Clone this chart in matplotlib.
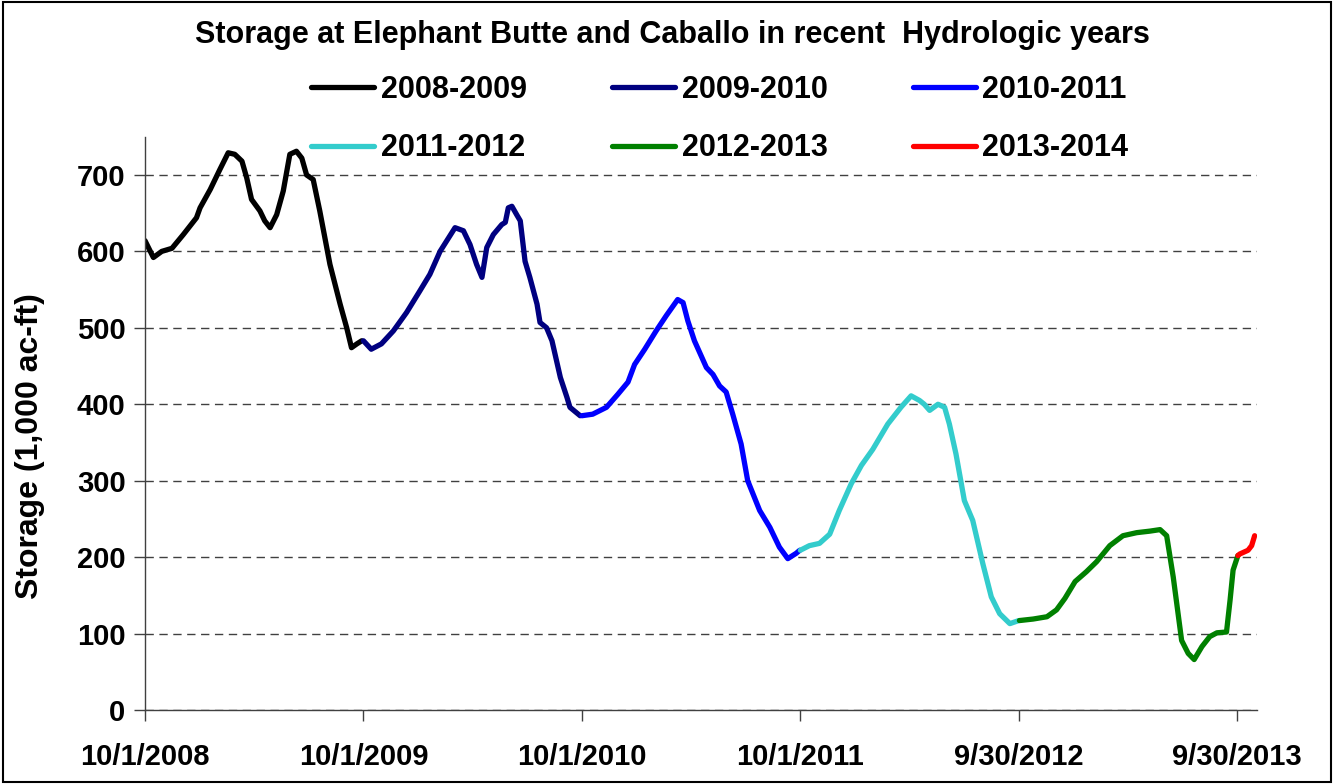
import numpy as np
import pandas as pd
import matplotlib
matplotlib.use("Agg")
import matplotlib.pyplot as plt
from matplotlib.patches import Rectangle

plt.rcParams['font.family'] = ['Liberation Sans', 'DejaVu Sans']
plt.rcParams['font.weight'] = 'bold'

# hydrologic years, each series given as (days since Oct 1 of that year, storage in 1000 ac-ft)
years = ["2008-2009", "2009-2010", "2010-2011", "2011-2012", "2012-2013", "2013-2014"]
starts = ["2008-10-01", "2009-10-01", "2010-10-01", "2011-10-01", "2012-10-01", "2013-10-01"]
colors = ["#000000", "#000080", "#0000FF", "#33CCCC", "#008000", "#FF0000"]

days_0809 = [0, 14, 28, 45, 64, 86, 92, 109, 125, 139, 150, 162, 170, 178, 192, 200,
             209, 220, 231, 242, 253, 262, 270, 281, 292, 309, 326, 337, 345, 354, 362]
vals_0809 = [614, 592, 600, 604, 622, 644, 657, 681, 707, 729, 727, 718, 696, 668, 653, 640,
             631, 648, 679, 727, 731, 722, 700, 694, 653, 583, 531, 500, 474, 479, 483]

days_0910 = [0, 13, 30, 50, 72, 94, 111, 128, 153, 167, 178, 189, 198, 206, 217, 231,
             237, 242, 248, 256, 262, 270, 278, 290, 295, 306, 315, 329, 340, 345, 362]
vals_0910 = [483, 472, 479, 496, 520, 548, 570, 600, 631, 627, 609, 583, 566, 605, 622, 635,
             638, 657, 659, 648, 640, 587, 566, 531, 507, 500, 483, 435, 409, 396, 385]

days_1011 = [0, 18, 41, 60, 77, 88, 105, 124, 141, 160, 169, 177, 188, 208, 219, 230,
             241, 252, 266, 277, 297, 314, 330, 344, 358, 364]
vals_1011 = [385, 387, 396, 413, 429, 452, 472, 496, 516, 537, 533, 509, 483, 448, 439, 424,
             416, 387, 348, 300, 261, 239, 213, 198, 205, 209]

days_1112 = [0, 15, 32, 49, 65, 85, 102, 121, 146, 168, 185, 199, 207, 216, 230, 241,
             249, 260, 274, 288, 305, 319, 333, 350, 365]
vals_1112 = [209, 215, 218, 230, 261, 296, 320, 341, 374, 396, 411, 405, 400, 392, 400, 396,
             374, 335, 274, 248, 191, 148, 126, 113, 117]

days_1213 = [0, 23, 46, 62, 76, 93, 112, 129, 151, 173, 196, 218, 235, 246, 257, 271,
             282, 292, 305, 318, 330, 346, 352, 357, 365]
vals_1213 = [117, 119, 122, 131, 146, 168, 181, 194, 215, 228, 232, 234, 236, 228, 174, 91,
             74, 66, 83, 96, 101, 102, 144, 183, 202]

days_1314 = [0, 3, 17, 23, 28]
vals_1314 = [202, 204, 209, 215, 228]

all_days = [days_0809, days_0910, days_1011, days_1112, days_1213, days_1314]
all_vals = [vals_0809, vals_0910, vals_1011, vals_1112, vals_1213, vals_1314]

tick_dates = ["2008-10-01", "2009-10-01", "2010-10-01", "2011-10-01", "2012-09-30", "2013-09-30"]
tick_labels = ["10/1/2008", "10/1/2009", "10/1/2010", "10/1/2011", "9/30/2012", "9/30/2013"]

fig = plt.figure(figsize=(13.34, 7.84), dpi=100)
ax = fig.add_axes([0.1087, 0.0944, 0.8336, 0.7312])

lines = []
for lab, st, col, d, v in zip(years, starts, colors, all_days, all_vals):
    x = pd.Timestamp(st) + pd.to_timedelta(d, unit="D")
    ln, = ax.plot(x, v, color=col, lw=3.8, label=lab,
                  solid_capstyle='round', solid_joinstyle='round')
    lines.append(ln)

ax.set_ylim(0, 750)
ax.set_yticks(range(0, 701, 100))
ax.set_xlim(pd.Timestamp("2008-10-01"), pd.Timestamp("2013-11-02"))
ax.set_xticks([pd.Timestamp(t) for t in tick_dates])
ax.set_xticklabels(tick_labels)

ax.yaxis.grid(True, linestyle=(0, (6, 4)), color='#404040', lw=1.0)
ax.set_axisbelow(True)
for s in ['top', 'right']:
    ax.spines[s].set_visible(False)
for s in ['left', 'bottom']:
    ax.spines[s].set_color('#404040')
    ax.spines[s].set_linewidth(1.0)
ax.tick_params(axis='both', labelsize=21, length=8, color='#404040', width=1.0)
ax.tick_params(axis='x', pad=16)
ax.tick_params(axis='y', pad=6)
ax.set_ylabel("Storage (1,000 ac-ft)", fontsize=23, fontweight='bold')
ax.yaxis.set_label_coords(-0.090, 0.46)

fig.text(0.504, 0.955, "Storage at Elephant Butte and Caballo in recent  Hydrologic years",
         ha='center', va='center', fontsize=22, fontweight='bold')

# legend filled row by row like the original
order = [0, 3, 1, 4, 2, 5]
fig.legend([lines[i] for i in order], [years[i] for i in order],
           loc='center', bbox_to_anchor=(0.5397, 0.848), ncol=3, frameon=False,
           handlelength=2.05, handletextpad=0.22, columnspacing=2.8,
           labelspacing=0.93, prop={'weight': 'bold', 'size': 22})

fig.patches.append(Rectangle((0.002, 0.002), 0.996, 0.996, transform=fig.transFigure,
                             fill=False, edgecolor='black', lw=1.5))

fig.savefig("out.png", dpi=100)
